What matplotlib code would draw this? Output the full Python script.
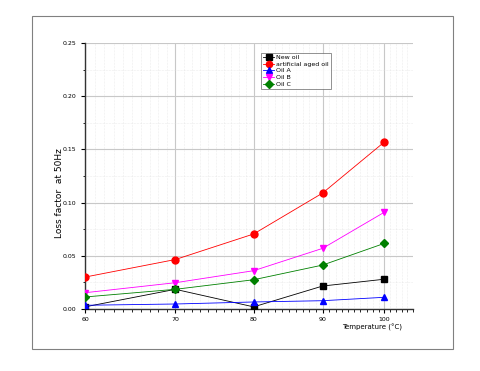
import matplotlib
matplotlib.use('Agg')
import matplotlib.pyplot as plt
import matplotlib.ticker as mticker
from matplotlib.patches import Rectangle

temperature = [60, 70, 80, 90, 100]
new_oil = [0.002, 0.0185, 0.002, 0.0216, 0.028]
aged_oil = [0.030, 0.0465, 0.0705, 0.109, 0.157]
oil_a = [0.0035, 0.0047, 0.0066, 0.0078, 0.011]
oil_b = [0.0153, 0.0247, 0.036, 0.057, 0.091]
oil_c = [0.0113, 0.0185, 0.0275, 0.0413, 0.0617]

series = [
    ('New oil', new_oil, 'black', 's'),
    ('artificial aged oil', aged_oil, 'red', 'o'),
    ('Oil A', oil_a, 'blue', '^'),
    ('Oil B', oil_b, 'magenta', 'v'),
    ('Oil C', oil_c, 'green', 'D'),
]

W, H = 480, 371
fig = plt.figure(figsize=(W / 100, H / 100), dpi=100)
fig.patch.set_facecolor('white')
fig.add_artist(Rectangle((32 / W, (H - 349) / H), 421 / W, 333 / H,
                         transform=fig.transFigure, fill=False,
                         edgecolor='#808080', linewidth=0.8))

ax = fig.add_axes([85 / W, (H - 309) / H, (413 - 85) / W, (309 - 43) / H])

for label, vals, color, marker in series:
    ms = 4.5 if marker == 'D' else 5
    ax.plot(temperature, vals, color=color, marker=marker, markersize=ms,
            linewidth=0.6, label=label, zorder=3)

ax.set_xscale('log')
ax.set_xlim(60, 105)
ax.set_ylim(0, 0.25)
ax.xaxis.set_major_locator(mticker.FixedLocator([60, 70, 80, 90, 100]))
ax.xaxis.set_minor_locator(mticker.FixedLocator(range(61, 106)))
ax.xaxis.set_major_formatter(mticker.FormatStrFormatter('%d'))
ax.xaxis.set_minor_formatter(mticker.NullFormatter())
ax.yaxis.set_major_locator(mticker.MultipleLocator(0.05))
ax.yaxis.set_minor_locator(mticker.MultipleLocator(0.025))
ax.yaxis.set_major_formatter(mticker.FormatStrFormatter('%.2f'))

ax.grid(True, which='major', color='#c8c8c8', linewidth=0.8, linestyle='-')
ax.grid(True, which='minor', color='#dcdcdc', linewidth=0.4, linestyle=':')
ax.set_axisbelow(True)

ax.spines['top'].set_visible(False)
ax.spines['right'].set_visible(False)
ax.spines['left'].set_linewidth(1.0)
ax.spines['bottom'].set_linewidth(1.0)
ax.spines['left'].set_color('#333333')
ax.spines['bottom'].set_color('#333333')

ax.tick_params(which='major', direction='out', length=3, width=0.8,
               labelsize=4.5, pad=3)
ax.tick_params(which='minor', direction='out', length=1.8, width=0.6)

fig.text(372 / W, 1 - 327 / H, 'Temperature (°C)', fontsize=5,
         ha='center', va='center')
fig.text(59 / W, 1 - 193 / H, 'Loss factor  at 50Hz', fontsize=6.5,
         ha='center', va='center', rotation=90)

leg = ax.legend(loc='upper left', bbox_to_anchor=((261 - 85) / (413 - 85), 1 - (53 - 43) / (309 - 43)),
                fontsize=4.5, frameon=True, fancybox=False, edgecolor='#606060',
                handlelength=1.8, handletextpad=0.3, borderpad=0.3,
                labelspacing=0.2, markerscale=0.9, borderaxespad=0)
leg.get_frame().set_linewidth(0.6)

fig.savefig('out.png', dpi=100)
